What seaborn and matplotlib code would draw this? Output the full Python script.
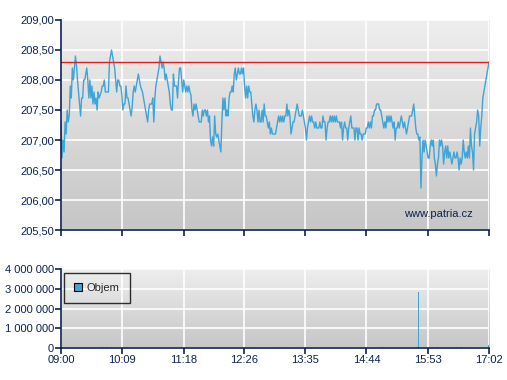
import numpy as np
import pandas as pd
import seaborn as sns
import matplotlib.pyplot as plt
from matplotlib.colors import LinearSegmentedColormap
from matplotlib.patches import Patch

# price readings from 09:00 to 17:02, roughly one per minute
prices = [
    207.3, 206.7, 207.0, 206.8, 207.3, 207.1, 207.5, 207.3, 207.4, 207.9, 207.7, 208.2, 208.0, 208.2, 208.4,
    208.25, 208.0, 207.8, 207.6, 207.4, 207.7, 207.7, 208.0, 208.0, 208.1, 208.2, 208.0, 207.7, 208.0, 207.7,
    207.9, 207.6, 207.8, 207.6, 207.7, 207.5, 207.8, 207.7, 207.75, 207.8, 207.9, 207.9, 208.0, 207.8, 207.8,
    207.8, 207.8, 208.3, 208.4, 208.5, 208.4, 208.3, 208.2, 208.0, 207.8, 208.0, 208.0, 207.9, 207.9, 207.75,
    207.5, 207.6, 207.6, 207.9, 207.7, 207.7, 207.6, 207.5, 207.4, 207.55, 207.8, 207.9, 207.8, 207.9, 208.0,
    208.1, 208.0, 207.9, 207.85, 207.8, 207.7, 207.6, 207.5, 207.4, 207.3, 207.5, 207.6, 207.6, 207.6, 207.7,
    207.3, 207.7, 207.9, 208.0, 208.1, 208.2, 208.4, 208.3, 208.2, 208.3, 208.2, 208.0, 208.1, 208.0, 207.9,
    207.8, 207.6, 207.5, 207.5, 208.1, 207.9, 207.9, 207.9, 207.7, 208.0, 208.2, 208.2, 208.0, 207.8, 208.0,
    207.9, 207.8, 207.9, 207.8, 207.9, 207.8, 207.75, 207.5, 207.4, 207.6, 207.5, 207.6, 207.5, 207.4, 207.3,
    207.3, 207.3, 207.5, 207.4, 207.5, 207.5, 207.4, 207.5, 207.3, 207.4, 207.0, 206.9, 207.05, 206.9, 207.4,
    207.1, 207.05, 207.1, 207.0, 206.9, 206.8, 207.3, 207.7, 207.5, 207.7, 207.4, 207.5, 207.4, 207.7, 207.8,
    207.8, 207.9, 207.8, 208.1, 208.2, 208.0, 208.1, 208.2, 208.1, 208.1, 208.2, 208.1, 208.2, 207.9, 207.7,
    207.9, 207.7, 207.9, 207.8, 207.8, 207.6, 207.4, 207.3,
    207.5, 207.6, 207.5, 207.3, 207.5, 207.3, 207.3, 207.5, 207.3, 207.6, 207.4, 207.4, 207.3, 207.2, 207.3,
    207.1, 207.2, 207.1, 207.1, 207.1, 207.1, 207.2, 207.3, 207.4, 207.3, 207.4, 207.3, 207.4, 207.3, 207.4,
    207.4, 207.6, 207.4, 207.5, 207.4, 207.1, 207.2, 207.3, 207.3, 207.4, 207.5, 207.6, 207.5, 207.4, 207.4,
    207.4, 207.5, 207.4, 207.3, 207.2, 207.0, 207.2, 207.3, 207.4, 207.3, 207.4, 207.3, 207.3, 207.2, 207.3,
    207.2, 207.2, 207.2, 207.3, 207.2, 207.2, 207.4, 207.3, 207.3, 207.0, 207.2, 207.3, 207.3, 207.4, 207.3,
    207.4, 207.3, 207.4, 207.3, 207.4, 207.3, 207.3, 207.3, 207.2, 207.3, 207.0, 207.2, 207.3, 207.2, 207.2,
    207.0, 207.2, 207.3, 207.4, 207.2, 207.2, 207.2, 207.0, 207.2, 207.2, 207.0, 207.2, 207.1, 207.1, 207.0,
    207.1, 207.1, 207.1, 207.2, 207.2, 207.3, 207.2, 207.3, 207.2, 207.4, 207.4, 207.5, 207.5, 207.6, 207.6,
    207.6, 207.5, 207.5, 207.4, 207.3, 207.2, 207.3, 207.2, 207.4, 207.3, 207.4, 207.3, 207.4, 207.3, 207.2,
    207.3, 207.0, 207.2, 207.2, 207.3, 207.2, 207.3, 207.4, 207.3, 207.2, 207.3, 207.2, 207.1, 207.2, 207.3,
    207.4, 207.4, 207.4, 207.5, 207.6, 207.4, 207.2, 207.1, 207.1, 207.0, 207.05, 206.2, 206.7, 207.0, 206.8,
    207.0, 206.9, 206.8, 206.7, 206.7, 206.9, 207.0, 206.9, 207.0, 206.7, 206.6, 206.4, 206.6, 206.7, 207.0,
    206.9, 207.0, 206.9, 206.6, 206.8, 206.9, 206.7, 206.9, 206.7, 206.8, 206.7, 206.6, 206.7, 206.8, 206.7,
    206.7, 206.8, 206.7, 206.5, 206.7, 206.6, 206.7, 207.0, 206.8, 206.7, 206.8, 206.7, 206.9, 206.7, 207.2,
    206.9, 206.8, 206.5, 207.1, 207.2, 207.3, 207.5, 207.4, 206.9, 207.2, 207.4, 207.7, 207.8, 207.9, 208.0,
    208.1, 208.2, 208.3,
]
ref_price = 208.3

# volume: minutes after 09:00 and traded volume
vol_minutes = [47, 51, 74, 343, 362, 403, 424, 451, 482]
vol_values = [60000, 50000, 40000, 20000, 50000, 2850000, 40000, 30000, 150000]

tick_minutes = [0, 69, 138, 206, 275, 344, 413, 482]
tick_labels = ["09:00", "10:09", "11:18", "12:26", "13:35", "14:44", "15:53", "17:02"]
price_ticks = [205.5, 206.0, 206.5, 207.0, 207.5, 208.0, 208.5, 209.0]
vol_ticks = [0, 1000000, 2000000, 3000000, 4000000]

sns.set_style("white")
plt.rcParams['font.family'] = ['Liberation Sans', 'DejaVu Sans']
navy = "#0c2250"
line_col = "#3fa4d6"

df = pd.DataFrame({"minute": np.linspace(0, 482, len(prices)), "price": prices})

fig = plt.figure(figsize=(5.07, 3.80), dpi=100)
ax = fig.add_axes([0.1203, 0.3947, 0.8442, 0.5527])
ax2 = fig.add_axes([0.1203, 0.0842, 0.8442, 0.2071])

grad = LinearSegmentedColormap.from_list("bg", ["#c6c6c6", "#eeeeee"])
for a in (ax, ax2):
    a.imshow(np.linspace(0, 1, 100).reshape(-1, 1), extent=[0, 1, 0, 1], transform=a.transAxes,
             aspect="auto", cmap=grad, origin="lower", zorder=0)
    a.set_axisbelow(True)
    a.grid(True, color="white", linewidth=1.2)
    a.set_xlim(0, 482)
    a.set_xticks(tick_minutes)
    for s in ("top", "right"):
        a.spines[s].set_visible(False)
    for s in ("left", "bottom"):
        a.spines[s].set_color(navy)
        a.spines[s].set_linewidth(1.2)
    a.tick_params(axis="both", direction="out", length=4, width=1.2, color=navy,
                  labelcolor=navy, labelsize=8, pad=1, left=True, bottom=True)

sns.lineplot(data=df, x="minute", y="price", ax=ax, color=line_col, linewidth=1)
ax.axhline(ref_price, color="#e02020", linewidth=1)
ax.set_ylim(205.5, 209.0)
ax.set_yticks(price_ticks)
ax.set_yticklabels([f"{v:.2f}".replace(".", ",") for v in price_ticks])
ax.set_xticklabels([])
ax.set_xlabel("")
ax.set_ylabel("")
ax.text(0.963, 0.075, "www.patria.cz", transform=ax.transAxes, ha="right", va="center",
        color=navy, fontsize=8)

ax2.bar(vol_minutes, vol_values, width=1.3, color=line_col, linewidth=0, edgecolor="none", zorder=2)
ax2.set_ylim(0, 4000000)
ax2.set_yticks(vol_ticks)
ax2.set_yticklabels([f"{v:,}".replace(",", " ") for v in vol_ticks])
ax2.set_xticklabels(tick_labels)
leg = ax2.legend(handles=[Patch(facecolor=line_col, edgecolor="black", linewidth=0.8, label="Objem")],
                 loc="upper left", bbox_to_anchor=(0.008, 0.95), fancybox=False, frameon=True,
                 fontsize=8, handlelength=0.7, handleheight=0.7, handletextpad=0.4,
                 borderpad=0.9, borderaxespad=0)
leg.get_frame().set_edgecolor("black")
leg.get_frame().set_facecolor("none")
leg.get_frame().set_linewidth(1)

fig.savefig("out.png", dpi=100)
